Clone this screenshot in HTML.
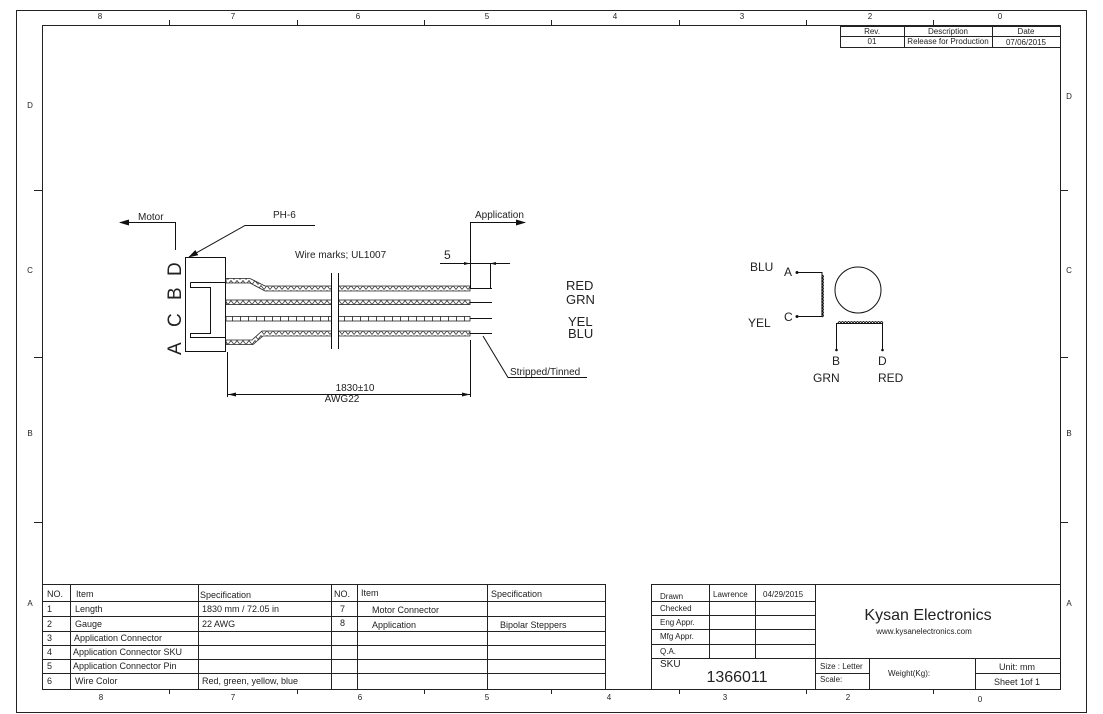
<!DOCTYPE html>
<html><head><meta charset="utf-8"><style>
html,body{margin:0;padding:0;background:#fff}
svg{display:block}
text{font-family:"Liberation Sans",sans-serif;fill:#222}
</style></head><body>
<svg width="1103" height="714" viewBox="0 0 1103 714" xmlns="http://www.w3.org/2000/svg">
<defs>
<pattern id="hat" width="6" height="5" patternUnits="userSpaceOnUse">
<rect width="6" height="5" fill="#fff"/><path d="M0 4.5 L3 0.5 L6 4.5" fill="none" stroke="#333" stroke-width="0.8"/>
</pattern>
<pattern id="sq" width="8" height="5" patternUnits="userSpaceOnUse">
<rect width="8" height="5" fill="#fff"/><path d="M0.5 0 V5" stroke="#333" stroke-width="0.9"/>
</pattern>
<marker id="ar" markerWidth="10" markerHeight="6" refX="9" refY="3" orient="auto" markerUnits="userSpaceOnUse"><path d="M0 0 L10 3 L0 6Z" fill="#111"/></marker>
</defs>
<g fill="none" stroke="#222" stroke-width="1">
<rect x="16.5" y="10.5" width="1070" height="702"/>
<rect x="42.5" y="25.5" width="1018" height="664"/>
<path d="M169.5 20V25M297.5 20V25M424.5 20V25M551.5 20V25M679.5 20V25M806.5 20V25M933.5 20V25"/>
<path d="M169.5 689V694M297.5 689V694M424.5 689V694M551.5 689V694M679.5 689V694M806.5 689V694M933.5 689V694"/>
<path d="M34 190.5H42M34 357.5H42M34 522.5H42M1060 190.5H1068M1060 357.5H1068M1060 522.5H1068"/>
<!-- revision -->
<rect x="840.5" y="26.5" width="220" height="21"/>
<path d="M840 36.5H1060M904.5 26V47M992.5 26V47"/>
<!-- left table -->
<rect x="42.5" y="584.5" width="563" height="105"/>
<path d="M42 601.5H605M42 616.5H605M42 631.5H605M42 645.5H605M42 659.5H605M42 673.5H605"/>
<path d="M70.5 584V689M198.5 584V689M331.5 584V689M357.5 584V689M487.5 584V689"/>
<!-- title block -->
<rect x="651.5" y="584.5" width="409" height="105"/>
<path d="M651 601.5H815M651 615.5H815M651 629.5H815M651 644.5H815M651 658.5H1060"/>
<path d="M709.5 584V658M755.5 584V658M815.5 584V689M869.5 658V689M975.5 658V689M815 673.5H869M975 673.5H1060"/>
</g>
<g font-size="8" text-anchor="middle">
<text x="100" y="19">8</text><text x="233" y="19">7</text><text x="358" y="19">6</text><text x="487" y="19">5</text><text x="615" y="19">4</text><text x="742" y="19">3</text><text x="870" y="19">2</text><text x="1000" y="19">0</text>
<text x="101" y="700">8</text><text x="233" y="700">7</text><text x="360" y="700">6</text><text x="487" y="700">5</text><text x="609" y="700">4</text><text x="725" y="700">3</text><text x="848" y="700">2</text><text x="980" y="702">0</text>
<text x="30" y="108">D</text><text x="30" y="273">C</text><text x="30" y="436">B</text><text x="30" y="606">A</text>
<text x="1069" y="99">D</text><text x="1069" y="273">C</text><text x="1069" y="436">B</text><text x="1069" y="606">A</text>
<text x="872" y="34" fill="#555">Rev.</text><text x="948" y="34">Description</text><text x="1026" y="34">Date</text>
<text x="872" y="44">01</text><text x="948" y="44">Release for Production</text><text x="1026" y="45">07/06/2015</text>
</g>
<g font-size="9">
<text x="47" y="597">NO.</text><text x="76" y="597">Item</text><text x="200" y="598">Specification</text>
<text x="334" y="597">NO.</text><text x="361" y="596">Item</text><text x="491" y="597">Specification</text>
<text x="47" y="612">1</text><text x="75" y="612">Length</text><text x="202" y="612">1830 mm  / 72.05 in</text>
<text x="47" y="627">2</text><text x="75" y="627">Gauge</text><text x="202" y="627">22 AWG</text>
<text x="47" y="641">3</text><text x="74" y="641">Application Connector</text>
<text x="47" y="655">4</text><text x="73" y="655">Application Connector SKU</text>
<text x="47" y="669">5</text><text x="73" y="669">Application Connector Pin</text>
<text x="47" y="684">6</text><text x="75" y="684">Wire Color</text><text x="202" y="684">Red, green, yellow, blue</text>
<text x="340" y="612">7</text><text x="372" y="613">Motor Connector</text>
<text x="340" y="626">8</text><text x="372" y="628">Application</text><text x="500" y="628">Bipolar Steppers</text>
</g>
<g font-size="8">
<text x="660" y="599">Drawn</text><text x="713" y="597">Lawrence</text><text x="763" y="597">04/29/2015</text>
<text x="660" y="611">Checked</text><text x="660" y="625">Eng Appr.</text><text x="660" y="639">Mfg Appr.</text><text x="660" y="654">Q.A.</text>
<text x="660" y="667" font-size="10">SKU</text>
<text x="737" y="682" font-size="16" text-anchor="middle">1366011</text>
<text x="820" y="669">Size : Letter</text><text x="820" y="682">Scale:</text>
<text x="888" y="676">Weight(Kg):</text>
<text x="1017" y="670" text-anchor="middle" font-size="9">Unit: mm</text>
<text x="1017" y="685" text-anchor="middle" font-size="9">Sheet 1of 1</text>
<text x="928" y="620" text-anchor="middle" font-size="16">Kysan Electronics</text>
<text x="924" y="634" text-anchor="middle">www.kysanelectronics.com</text>
</g>
<!-- cable drawing -->
<g fill="none" stroke="#111" stroke-width="1">
<rect x="185.5" y="257.5" width="40" height="94"/>
<path d="M190.5 282.5H226M190.5 282.5V287.5H210.5V333.5H190.5V337.5H226"/>
<path d="M226 282.5H250L265 290H470"/>
<path d="M226 342.5H253L263 334H470"/>
</g>
<g stroke="#222" stroke-width="0.8">
<path d="M226 278.5H250L265 286H470V291H265L250 283H226Z" fill="url(#hat)"/>
<rect x="226" y="300" width="244" height="4.5" fill="url(#hat)"/>
<rect x="226" y="316.5" width="244" height="4.5" fill="url(#sq)"/>
<path d="M226 340H252L262 331H470V336H263L253 344.5H226Z" fill="url(#hat)"/>
</g>
<rect x="331" y="270" width="8" height="82" fill="#fff"/>
<g fill="none" stroke="#111" stroke-width="1">
<path d="M331.5 273V349M338.5 273V349"/>
<path d="M470 288.5H492M470 302.5H492M470 318.5H492M470 333.5H492"/>
<path d="M470.5 222V288M490.5 263V288"/>
<path d="M440 263.5H510"/>
<path d="M470 222.5H525" marker-end="url(#ar)"/>
<path d="M175.5 250V222.5H120" marker-end="url(#ar)"/>
<path d="M315 225.5H245L189 257" marker-end="url(#ar)"/>
<path d="M227.5 352V397M470.5 340V397"/>
<path d="M228 394.5H470"/>
<path d="M587 377.5H508L483 336"/>
</g>
<path d="M228 394.5l8 -2v4zM470 394.5l-8 -2v4z" fill="#111"/>
<path d="M470 263.5l-6 -1.5v3zM490 263.5l6 -1.5v3z" fill="#111"/>
<g font-size="10">
<text x="138" y="220">Motor</text><text x="273" y="218">PH-6</text>
<text x="475" y="218">Application</text>
<text x="295" y="258">Wire marks; UL1007</text>
<text x="444" y="259" font-size="12">5</text>
<text x="510" y="375">Stripped/Tinned</text>
<text x="355" y="391" text-anchor="middle">1830±10</text>
<text x="342" y="402" text-anchor="middle">AWG22</text>
</g>
<g font-size="19">
<text transform="translate(181,276) rotate(-90)" fill="#444">D</text>
<text transform="translate(181,300) rotate(-90)" fill="#444">B</text>
<text transform="translate(181,327) rotate(-90)" fill="#444">C</text>
<text transform="translate(181,355) rotate(-90)" fill="#444">A</text>
</g>
<g font-size="13">
<text x="566" y="290" fill="#555">RED</text><text x="566" y="304" fill="#555">GRN</text>
<text x="568" y="326" fill="#555">YEL</text><text x="568" y="338" fill="#555">BLU</text>
</g>
<!-- motor schematic -->
<g fill="none" stroke="#111" stroke-width="1">
<circle cx="858" cy="290" r="23"/>
<path d="M797 272.5H822V316.5H797"/>
<path d="M822 275q3 1.5 0 3q3 1.5 0 3q3 1.5 0 3q3 1.5 0 3q3 1.5 0 3q3 1.5 0 3q3 1.5 0 3q3 1.5 0 3q3 1.5 0 3q3 1.5 0 3q3 1.5 0 3q3 1.5 0 3q3 1.5 0 3q3 1.5 0 3"/>
<path d="M836.5 350V323.5H882.5V350"/>
<path d="M838 323q1.5 -3 3 0q1.5 -3 3 0q1.5 -3 3 0q1.5 -3 3 0q1.5 -3 3 0q1.5 -3 3 0q1.5 -3 3 0q1.5 -3 3 0q1.5 -3 3 0q1.5 -3 3 0q1.5 -3 3 0q1.5 -3 3 0q1.5 -3 3 0q1.5 -3 3 0q1.5 -3 3 0"/>
</g>
<circle cx="797" cy="272.5" r="1.5" fill="#111"/><circle cx="797" cy="316.5" r="1.5" fill="#111"/>
<circle cx="836.5" cy="350" r="1.3" fill="#111"/><circle cx="882.5" cy="350" r="1.3" fill="#111"/>
<g font-size="12">
<text x="750" y="271" fill="#444">BLU</text><text x="784" y="276" fill="#444">A</text>
<text x="748" y="327" fill="#444">YEL</text><text x="784" y="321" fill="#444">C</text>
<text x="832" y="365" fill="#444">B</text><text x="878" y="365" fill="#444">D</text>
<text x="813" y="382" fill="#444">GRN</text><text x="878" y="382" fill="#444">RED</text>
</g>
</svg>
</body></html>
